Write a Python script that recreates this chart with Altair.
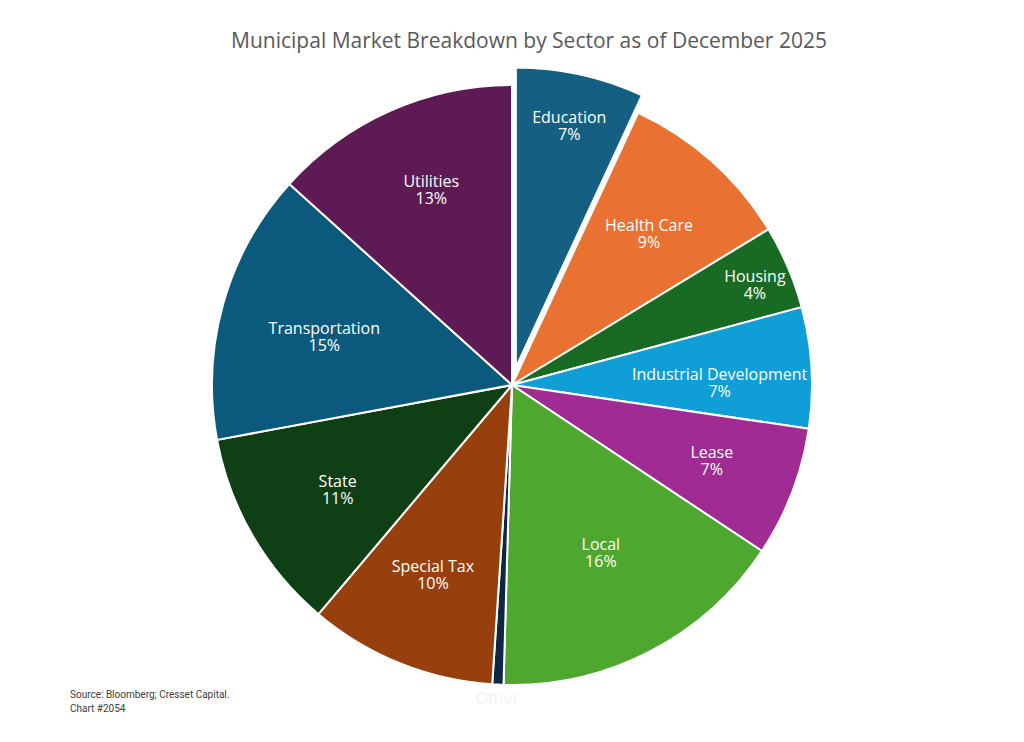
import altair as alt
import pandas as pd
import numpy as np

sectors = ["Education", "Health Care", "Housing", "Industrial Development", "Lease",
           "Local", "Other", "Special Tax", "State", "Transportation", "Utilities"]
shares = [6.9, 9.4, 4.5, 6.5, 7.0, 16.1, 0.6, 10.1, 10.9, 14.6, 13.3]
pct_labels = ["7%", "9%", "4%", "7%", "7%", "16%", "", "10%", "11%", "15%", "13%"]
colors = ["#155F83", "#E97132", "#196B24", "#0F9ED5", "#A02B93",
          "#4EA72E", "#0E2841", "#97400D", "#0F3F15", "#0B5A7E", "#5E1A55"]
source_lines = ["Source: Bloomberg; Cresset Capital.", "Chart #2054"]
title_text = "Municipal Market Breakdown by Sector as of December 2025"

df = pd.DataFrame({"sector": sectors, "share": shares, "pct": pct_labels})
df["end"] = df["share"].cumsum()
df["start"] = df["end"] - df["share"]
df["mid"] = (df["start"] + df["end"]) / 2
total = float(df["share"].sum())

W, H = 1008, 726
CX, CY = 504, 377
R = 300
EXPLODE = 18

tscale = alt.Scale(domain=[0, total], range=[0, 2 * np.pi])
color = alt.Color("sector:N", scale=alt.Scale(domain=sectors, range=colors), legend=None)

base = alt.Chart(df)

pie = base.transform_filter(alt.datum.sector != "Education").mark_arc(
    radius=R, stroke="white", strokeWidth=2
).encode(
    theta=alt.Theta("start:Q", scale=tscale),
    theta2="end:Q",
    color=color,
    x=alt.value(CX), y=alt.value(CY),
)

# exploded slice
edu_mid = float(df.loc[0, "mid"]) / total * 2 * np.pi
ex = CX + EXPLODE * np.sin(edu_mid)
ey = CY - EXPLODE * np.cos(edu_mid)

edu = base.transform_filter(alt.datum.sector == "Education").mark_arc(
    radius=R, stroke="white", strokeWidth=2
).encode(
    theta=alt.Theta("start:Q", scale=tscale),
    theta2="end:Q",
    color=color,
    x=alt.value(ex), y=alt.value(ey),
)

HALF_GAP = 8.5  # half the distance between the name line and the percent line


def label(name, radius, dx=0.0, dy=0.0, cx=CX, cy=CY):
    layers = []
    for field, off in (("sector", -HALF_GAP), ("pct", HALF_GAP)):
        layers.append(
            base.transform_filter(alt.datum.sector == name).mark_text(
                radius=radius, color="white", font="Open Sans", fontSize=16,
                align="center", baseline="middle", dx=dx, dy=off + dy
            ).encode(
                theta=alt.Theta("mid:Q", scale=tscale),
                text=f"{field}:N",
                x=alt.value(cx), y=alt.value(cy),
            )
        )
    return layers


label_layers = []
for args in [
    ("Education", 248, 0, 1, ex, ey),
    ("Health Care", 204, 1, 2),
    ("Housing", 262, 2, 4),
    ("Industrial Development", 208, 0, 11),
    ("Lease", 214),
    ("Local", 191, 1, -1),
    ("Special Tax", 206, -2, -1),
    ("State", 204, 2, 3),
    ("Transportation", 194, -1, 5),
    ("Utilities", 211, 5, -2),
]:
    label_layers += label(*args)

other_label = base.transform_filter(alt.datum.sector == "Other").mark_text(
    radius=314, color="#f2f2f2", font="Open Sans", fontSize=16, align="center", baseline="middle"
).encode(
    theta=alt.Theta("mid:Q", scale=tscale), text="sector:N",
    x=alt.value(CX), y=alt.value(CY),
)

title = alt.Chart(pd.DataFrame({"t": [title_text]})).mark_text(
    font="Open Sans", fontSize=21, color="#595959", align="center", baseline="middle"
).encode(text="t:N", x=alt.value(521), y=alt.value(34))

src1 = alt.Chart(pd.DataFrame({"t": [source_lines[0]]})).mark_text(
    font="Roboto", fontSize=10, color="#404040", align="left", baseline="middle"
).encode(text="t:N", x=alt.value(62), y=alt.value(687))
src2 = alt.Chart(pd.DataFrame({"t": [source_lines[1]]})).mark_text(
    font="Roboto", fontSize=10, color="#404040", align="left", baseline="middle"
).encode(text="t:N", x=alt.value(62), y=alt.value(701))

chart = alt.layer(pie, edu, *label_layers, other_label, title, src1, src2).properties(
    width=W, height=H, autosize=alt.AutoSizeParams(type="none"), padding=0
).configure_view(stroke=None, strokeWidth=0)

chart.save("out.html", embed_options={"renderer": "svg", "actions": False})
